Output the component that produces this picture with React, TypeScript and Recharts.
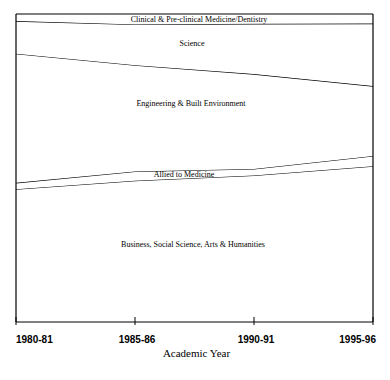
import { AreaChart, Area, XAxis, YAxis, ReferenceLine } from 'recharts';

const years = ['1980-81', '1985-86', '1990-91', '1995-96'];

// shares of students by subject group (%), stacked bottom to top
const business = [43.1, 45.9, 47.6, 50.6];
const allied = [2.1, 3.0, 2.1, 3.3];
const engineering = [41.9, 34.5, 30.8, 22.7];
const science = [10.6, 13.2, 16.3, 20.3];
const clinical = [2.3, 3.4, 3.2, 3.1];

const data = years.map((year, i) => ({
    year,
    business: business[i],
    allied: allied[i],
    engineering: engineering[i],
    science: science[i],
    clinical: clinical[i],
}));

const serif = '"Liberation Serif", "Times New Roman", serif';

const YearTick = (props: any) => {
    const { x, y, payload, index } = props;
    const last = index === years.length - 1;
    const anchor = index === 0 ? 'start' : last ? 'end' : 'middle';
    const tx = index === 0 ? x : last ? x + 3 : x + 2;
    return (
        <g>
            <line x1={x} x2={x} y1={y - 5} y2={y + 3} stroke="#000" />
            <text
                x={tx}
                y={y + 21}
                textAnchor={anchor}
                fontFamily='"Liberation Sans", Arial, sans-serif'
                fontWeight="bold"
                fontSize={10}
                fill="#000">
                {payload.value}
            </text>
        </g>
    );
};

const series = [
    { key: 'business', name: 'Business, Social Science, Arts & Humanities' },
    { key: 'allied', name: 'Allied to Medicine' },
    { key: 'engineering', name: 'Engineering & Built Environment' },
    { key: 'science', name: 'Science' },
    { key: 'clinical', name: 'Clinical & Pre-clinical Medicine/Dentistry' },
];

// where each band's name sits inside the plot
const labelSpots = [
    { x: 193, y: 244 },
    { x: 184, y: 174 },
    { x: 191, y: 103 },
    { x: 192, y: 43 },
    { x: 199, y: 19 },
];

export default function App() {
    return (
        <div style={{ position: 'absolute', left: 0, top: 0, width: 390, height: 380, background: '#fff' }}>
            <AreaChart
                width={390}
                height={380}
                data={data}
                stackOffset="expand"
                margin={{ top: 14, right: 17, left: 16, bottom: 18 }}>
                <XAxis
                    dataKey="year"
                    height={40}
                    axisLine={{ stroke: '#000' }}
                    tickLine={false}
                    tickSize={0}
                    tickMargin={0}
                    tick={<YearTick />}
                    interval={0}
                    label={{
                        value: 'Academic Year',
                        position: 'insideBottom',
                        offset: 5,
                        dx: 2,
                        fontFamily: serif,
                        fontSize: 11,
                        fill: '#000',
                    }}
                />
                <YAxis hide domain={[0, 1]} />
                {series.map((s) => (
                    <Area
                        key={s.key}
                        type="linear"
                        dataKey={s.key}
                        name={s.name}
                        stackId="a"
                        stroke="#000"
                        strokeWidth={1.2}
                        fill="#fff"
                        fillOpacity={1}
                        isAnimationActive={false}
                    />
                ))}
                <ReferenceLine x="1980-81" stroke="#000" strokeWidth={1.2} />
                <ReferenceLine x="1995-96" stroke="#000" strokeWidth={1.2} />
            </AreaChart>
            <svg
                width={390}
                height={380}
                style={{ position: 'absolute', left: 0, top: 0, pointerEvents: 'none' }}>
                {series.map((s, i) => (
                    <text
                        key={s.key}
                        x={labelSpots[i].x}
                        y={labelSpots[i].y}
                        textAnchor="middle"
                        dominantBaseline="central"
                        fontFamily={serif}
                        fontSize={8}
                        fill="#000">
                        {s.name}
                    </text>
                ))}
            </svg>
        </div>
    );
}
